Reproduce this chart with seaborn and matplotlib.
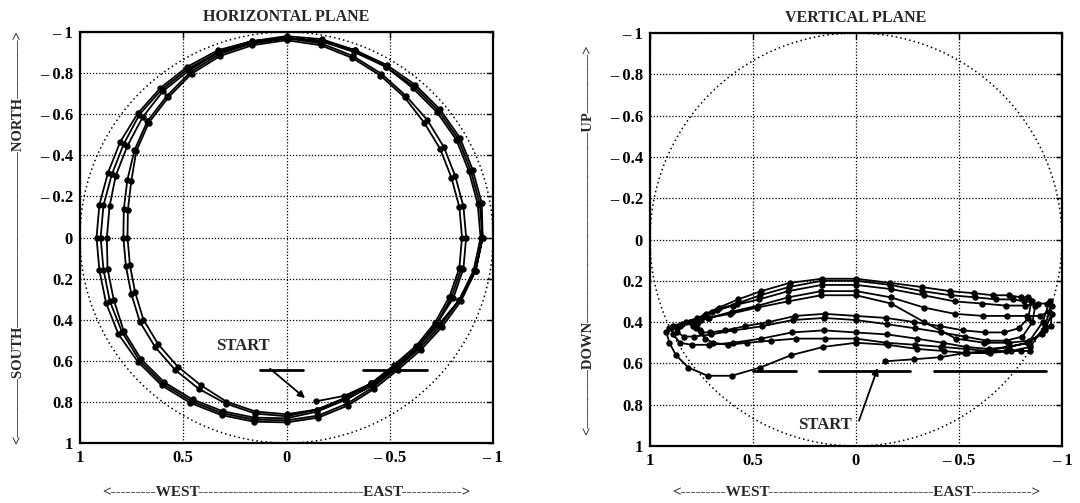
import numpy as np
import pandas as pd
import matplotlib
matplotlib.use("Agg")
import matplotlib.pyplot as plt
import seaborn as sns

# ---------------- data ----------------
# compass bearing (deg) of sampled points within one lap: south -> east -> north -> west
BEARING_DEG = [180, 170, 160, 150, 140, 130, 120, 110, 100, 90, 80, 70, 60, 50, 40, 30, 20, 10,
               0, 350, 340, 330, 320, 310, 300, 290, 280, 270, 260, 250, 240, 230, 220, 210, 200, 190]

# horizontal radius of each lap (lap 1 starts at bearing 170, lap 6 is partial)
LAP1_R = [0.81, 0.82, 0.82, 0.82, 0.83, 0.85, 0.89, 0.93, 0.95, 0.96, 0.96, 0.97, 0.97, 0.97, 0.97,
          0.97, 0.98, 0.98, 0.97, 0.97, 0.96, 0.95, 0.94, 0.93, 0.92, 0.92, 0.92, 0.92, 0.93, 0.94,
          0.94, 0.94, 0.93, 0.92, 0.91]
LAP2_R = [0.90, 0.89, 0.87, 0.85, 0.84, 0.85, 0.87, 0.90, 0.93, 0.95, 0.95, 0.95, 0.96, 0.96, 0.96,
          0.96, 0.97, 0.97, 0.97, 0.97, 0.96, 0.95, 0.94, 0.93, 0.91, 0.90, 0.90, 0.90, 0.90, 0.91,
          0.92, 0.93, 0.93, 0.92, 0.91, 0.90]
LAP3_R = [0.89, 0.88, 0.86, 0.84, 0.83, 0.84, 0.86, 0.89, 0.92, 0.94, 0.94, 0.94, 0.95, 0.95, 0.95,
          0.96, 0.96, 0.97, 0.97, 0.96, 0.96, 0.94, 0.93, 0.91, 0.89, 0.88, 0.87, 0.87, 0.88, 0.89,
          0.91, 0.92, 0.92, 0.91, 0.90, 0.89]
LAP4_R = [0.88, 0.86, 0.84, 0.83, 0.82, 0.83, 0.84, 0.86, 0.87, 0.87, 0.87, 0.87, 0.88, 0.89, 0.90,
          0.92, 0.94, 0.96, 0.97, 0.96, 0.95, 0.93, 0.90, 0.88, 0.85, 0.82, 0.80, 0.79, 0.79, 0.80,
          0.82, 0.83, 0.84, 0.85, 0.86, 0.87]
LAP5_R = [0.87, 0.85, 0.83, 0.82, 0.81, 0.82, 0.83, 0.84, 0.85, 0.85, 0.85, 0.85, 0.86, 0.87, 0.89,
          0.91, 0.93, 0.95, 0.96, 0.95, 0.94, 0.92, 0.89, 0.87, 0.84, 0.80, 0.78, 0.77, 0.77, 0.78,
          0.80, 0.81, 0.82, 0.83, 0.85, 0.86]
LAP6_R = [0.86, 0.85, 0.84, 0.83, 0.83, 0.83, 0.84, 0.85, 0.86]

# downward component of each lap
LAP1_DOWN = [0.59, 0.58, 0.57, 0.55, 0.54, 0.52, 0.50, 0.44,
             0.36, 0.42, 0.46, 0.49, 0.50, 0.50, 0.48, 0.40, 0.31, 0.27, 0.27, 0.30, 0.33, 0.36,
             0.38, 0.40, 0.42, 0.43, 0.45,
             0.50, 0.56, 0.62, 0.66, 0.66, 0.62, 0.56, 0.52]
LAP2_DOWN = [0.50, 0.51, 0.53, 0.54, 0.55, 0.55, 0.54, 0.52, 0.42,
             0.32, 0.35, 0.37, 0.37, 0.37, 0.37, 0.36, 0.33, 0.28, 0.25, 0.25, 0.28, 0.32, 0.35,
             0.38, 0.40, 0.41, 0.42, 0.43,
             0.46, 0.50, 0.51, 0.51, 0.50, 0.48, 0.45, 0.44]
LAP3_DOWN = [0.45, 0.46, 0.48, 0.50, 0.52, 0.53, 0.52, 0.50, 0.40,
             0.30, 0.31, 0.31, 0.32, 0.32, 0.31, 0.30, 0.27, 0.24, 0.22, 0.22, 0.25, 0.29, 0.32,
             0.35, 0.38, 0.40, 0.42, 0.43,
             0.45, 0.47, 0.47, 0.46, 0.44, 0.42, 0.39, 0.38]
LAP4_DOWN = [0.39, 0.41, 0.43, 0.45, 0.47, 0.49, 0.49, 0.47, 0.40,
             0.32, 0.30, 0.30, 0.29, 0.29, 0.28, 0.27, 0.25, 0.22, 0.20, 0.20, 0.23, 0.27, 0.31,
             0.34, 0.37, 0.40, 0.41, 0.42,
             0.43, 0.45, 0.45, 0.44, 0.42, 0.40, 0.37, 0.36]
LAP5_DOWN = [0.37, 0.38, 0.40, 0.42, 0.44, 0.45, 0.45, 0.43, 0.38,
             0.30, 0.28, 0.28, 0.27, 0.27, 0.26, 0.25, 0.23, 0.21, 0.19, 0.19, 0.21, 0.25, 0.29,
             0.33, 0.36, 0.39, 0.40, 0.41,
             0.44, 0.48, 0.50, 0.51, 0.50, 0.49, 0.48, 0.48]
LAP6_DOWN = [0.48, 0.50, 0.51, 0.52, 0.53, 0.54, 0.54, 0.54, 0.54]

LAP_START_INDEX = [1, 0, 0, 0, 0, 0]

# "START" reference marks
H_START_Y = 0.645
H_START_SEGMENTS = [(0.13, -0.08), (-0.37, -0.68)]
V_START_Y = 0.635
V_START_SEGMENTS = [(0.50, 0.29), (0.18, -0.26), (-0.38, -0.92)]

X_TICKS = [1, 0.5, 0, -0.5, -1]
X_TICK_LABELS = ["1", "0.5", "0", "\u2013 0.5", "\u2013 1"]
Y_TICKS = [-1, -0.8, -0.6, -0.4, -0.2, 0, 0.2, 0.4, 0.6, 0.8, 1]
Y_TICK_LABELS = ["\u2013 1", "\u2013 0.8", "\u2013 0.6", "\u2013 0.4", "\u2013 0.2", "0",
                 "0.2", "0.4", "0.6", "0.8", "1"]

# ---------------- build path ----------------
laps_r = [LAP1_R, LAP2_R, LAP3_R, LAP4_R, LAP5_R, LAP6_R]
laps_d = [LAP1_DOWN, LAP2_DOWN, LAP3_DOWN, LAP4_DOWN, LAP5_DOWN, LAP6_DOWN]
rows = []
step = 0
for r_list, d_list, off in zip(laps_r, laps_d, LAP_START_INDEX):
    bearings = BEARING_DEG[off:off + len(r_list)]
    for b, r, d in zip(bearings, r_list, d_list):
        th = np.deg2rad(b)
        rows.append(dict(step=step, west=-r * np.sin(th), south=-r * np.cos(th), down=d))
        step += 1
path = pd.DataFrame(rows)

# ---------------- style ----------------
sns.set_style("white")
plt.rcParams['font.family'] = ['Liberation Serif', 'DejaVu Serif']
plt.rcParams['font.weight'] = 'bold'

fig = plt.figure(figsize=(10.8, 5.03), dpi=100)
ax1 = fig.add_axes([80 / 1080, 1 - 443 / 503, 413 / 1080, 411 / 503])
ax2 = fig.add_axes([650 / 1080, 1 - 446 / 503, 412 / 1080, 413 / 503])

circ_t = np.linspace(0, 2 * np.pi, 400)
D = "\u2014"


def style_axes(ax, title, ylab):
    ax.set_xlim(1, -1)
    ax.set_ylim(1, -1)
    ax.set_xticks(X_TICKS)
    ax.set_xticklabels(X_TICK_LABELS)
    ax.set_yticks(Y_TICKS)
    ax.set_yticklabels(Y_TICK_LABELS)
    ax.tick_params(direction='in', length=4, width=1, labelsize=12, top=True, right=True,
                   pad=5, colors='black')
    for lab in ax.get_xticklabels() + ax.get_yticklabels():
        lab.set_fontweight('bold')
    ax.grid(True, linestyle=(0, (1, 1.5)), color='black', linewidth=0.9)
    for s in ax.spines.values():
        s.set_color('black')
        s.set_linewidth(1.6)
    ax.plot(np.cos(circ_t), np.sin(circ_t), linestyle=(0, (1, 2)), color='black', lw=1.1, zorder=2)
    ax.set_title(title, fontsize=11.5, fontweight='bold', pad=8)
    ax.text(-0.15, 0.5, ylab, transform=ax.transAxes, rotation=90, ha='center', va='center',
            fontsize=10.5, fontweight='bold')
    ax.set_xlabel("")
    ax.set_ylabel("")


sns.lineplot(data=path, x='west', y='south', sort=False, estimator=None, color='black',
             marker='o', markersize=4.6, markeredgewidth=0, linewidth=1.3, ax=ax1, zorder=3)
sns.lineplot(data=path, x='west', y='down', sort=False, estimator=None, color='black',
             marker='o', markersize=4.6, markeredgewidth=0, linewidth=1.3, ax=ax2, zorder=3)

style_axes(ax1, "HORIZONTAL PLANE", "<" + D * 4 + "SOUTH" + D * 12 + "NORTH" + D * 4 + ">")
style_axes(ax2, "VERTICAL PLANE", "<" + D * 4 + "DOWN" + D * 13 + "UP" + D * 4 + ">")

XLAB = "<" + "-" * 9 + "WEST" + "-" * 33 + "EAST" + "-" * 12 + ">"
fig.text(286.5 / 1080, 1 - 492 / 503, XLAB, ha='center', va='center', fontsize=11, fontweight='bold')
fig.text(856 / 1080, 1 - 492 / 503, XLAB, ha='center', va='center', fontsize=11, fontweight='bold')

for a, b in H_START_SEGMENTS:
    ax1.plot([a, b], [H_START_Y, H_START_Y], color='black', lw=2, zorder=4)
for a, b in V_START_SEGMENTS:
    ax2.plot([a, b], [V_START_Y, V_START_Y], color='black', lw=2, zorder=4)

ax1.text(0.21, 0.53, "START", ha='center', va='center', fontsize=12)
ax1.annotate("", xy=(-0.10, 0.79), xytext=(0.09, 0.63),
             arrowprops=dict(arrowstyle='-|>', color='black', lw=1.3, mutation_scale=10))
ax2.text(0.15, 0.90, "START", ha='center', va='center', fontsize=12)
ax2.annotate("", xy=(-0.11, 0.61), xytext=(-0.01, 0.89),
             arrowprops=dict(arrowstyle='-|>', color='black', lw=1.3, mutation_scale=10))

fig.savefig("out.png", dpi=100, facecolor='white')
